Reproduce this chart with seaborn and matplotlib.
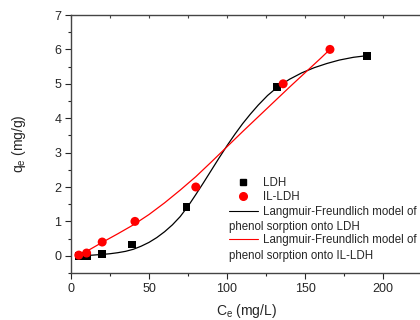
import pandas as pd
import matplotlib
matplotlib.use("Agg")
import matplotlib.pyplot as plt
import seaborn as sns
from matplotlib.lines import Line2D
from matplotlib.ticker import MultipleLocator

# measured points
ce_ldh = [5, 10, 20, 39, 74, 132, 190]
qe_ldh = [0.0, 0.0, 0.05, 0.33, 1.42, 4.9, 5.82]
ce_il = [5, 10, 20, 41, 80, 136, 166]
qe_il = [0.02, 0.08, 0.4, 1.0, 2.0, 5.0, 6.0]

# Langmuir-Freundlich model curves
fit_ldh_x = [7, 14, 20, 25, 30, 35, 40, 45, 50, 55, 60, 65, 70, 75, 80, 85, 90, 95, 100,
             105, 110, 115, 120, 126, 132, 140, 148, 156, 164, 172, 181, 190]
fit_ldh_y = [0.0, 0.02, 0.04, 0.06, 0.09, 0.13, 0.19, 0.28, 0.39, 0.53, 0.7, 0.9, 1.14,
             1.44, 1.78, 2.13, 2.49, 2.85, 3.2, 3.53, 3.84, 4.12, 4.38, 4.66, 4.89, 5.13,
             5.32, 5.47, 5.59, 5.69, 5.77, 5.82]
fit_il_x = [5, 10, 15, 20, 30, 40, 50, 60, 70, 80, 90, 100, 110, 120, 130, 140, 150, 160, 166]
fit_il_y = [0.0, 0.13, 0.26, 0.39, 0.64, 0.9, 1.2, 1.54, 1.91, 2.3, 2.73, 3.17, 3.61, 4.04,
            4.47, 4.9, 5.32, 5.74, 6.0]

sns.set_style("ticks")
plt.rcParams["font.family"] = ["Liberation Sans", "DejaVu Sans"]
plt.rcParams["mathtext.fontset"] = "custom"
plt.rcParams["mathtext.rm"] = "Liberation Sans"

fig = plt.figure(figsize=(4.2, 3.2), dpi=100)
ax = fig.add_axes([71 / 420, 47 / 320, 351 / 420, 258 / 320])

pts = pd.concat([
    pd.DataFrame({"Ce": ce_ldh, "qe": qe_ldh, "set": "LDH"}),
    pd.DataFrame({"Ce": ce_il, "qe": qe_il, "set": "IL-LDH"}),
])
sns.lineplot(x=fit_ldh_x, y=fit_ldh_y, color="black", lw=0.9, sort=False, ax=ax)
sns.lineplot(x=fit_il_x, y=fit_il_y, color="red", lw=0.9, sort=False, ax=ax)
sns.scatterplot(data=pts[pts["set"] == "LDH"], x="Ce", y="qe", marker="s", color="black",
                s=32, edgecolor="none", ax=ax, zorder=3)
sns.scatterplot(data=pts[pts["set"] == "IL-LDH"], x="Ce", y="qe", marker="o", color="red",
                s=42, edgecolor="none", ax=ax, zorder=3)

ax.set_xlim(0, 225)
ax.set_ylim(-0.5, 7)
ax.xaxis.set_major_locator(MultipleLocator(50))
ax.xaxis.set_minor_locator(MultipleLocator(25))
ax.yaxis.set_major_locator(MultipleLocator(1))
ax.yaxis.set_minor_locator(MultipleLocator(0.5))
ax.tick_params(which="major", direction="out", length=4, width=0.8, labelsize=9, pad=3)
ax.tick_params(which="minor", direction="out", length=2.5, width=0.8)
ax.tick_params(which="both", top=False, right=False)
for side in ["left", "bottom", "top", "right"]:
    ax.spines[side].set_visible(True)
    ax.spines[side].set_linewidth(1.0)
    ax.spines[side].set_color("#444444")

# small inward ticks on the top frame
top = ax.secondary_xaxis("top")
top.xaxis.set_major_locator(MultipleLocator(50))
top.xaxis.set_minor_locator(MultipleLocator(25))
top.tick_params(which="both", direction="in", length=2.5, width=0.8, labeltop=False,
                color="#444444")
top.spines["top"].set_visible(False)

ax.set_xlabel("C$_\\mathregular{e}$ (mg/L)", fontsize=10, labelpad=5.5)
ax.set_ylabel("q$_\\mathregular{e}$ (mg/g)", fontsize=10, labelpad=19)

fs = 8.3
hl, hp = 2.5, 0.43
handles = [
    Line2D([], [], marker="s", color="black", ls="none", ms=5),
    Line2D([], [], marker="o", color="red", ls="none", ms=5.5),
    Line2D([], [], color="black", lw=0.8),
    Line2D([], [], ls="none"),
    Line2D([], [], color="red", lw=0.8),
    Line2D([], [], ls="none"),
]
labels = ["LDH", "IL-LDH", "Langmuir-Freundlich model of", "phenol",
          "Langmuir-Freundlich model of", "phenol"]
leg = fig.legend(handles, labels, loc="upper left", bbox_to_anchor=(229 / 420, 1 - 177 / 320),
                 frameon=False, fontsize=fs, handlelength=hl, handletextpad=hp,
                 labelspacing=0.2, borderpad=0, borderaxespad=0)
for i in (3, 5):
    leg.get_texts()[i].set_alpha(0)

fig.canvas.draw()
r = fig.canvas.get_renderer()
W, H = fig.bbox.width, fig.bbox.height
for i, txt in [(3, "phenol sorption onto LDH"), (5, "phenol sorption onto IL-LDH")]:
    bb = leg.get_texts()[i].get_window_extent(r)
    ref = leg.get_texts()[i - 1].get_window_extent(r)
    x0 = ref.x0 - (hl + hp) * fs * fig.dpi / 72
    fig.text(x0 / W, ((bb.y0 + bb.y1) / 2 - 1.5) / H, txt, fontsize=fs, va="center", ha="left")

fig.savefig("out.png", dpi=100)
